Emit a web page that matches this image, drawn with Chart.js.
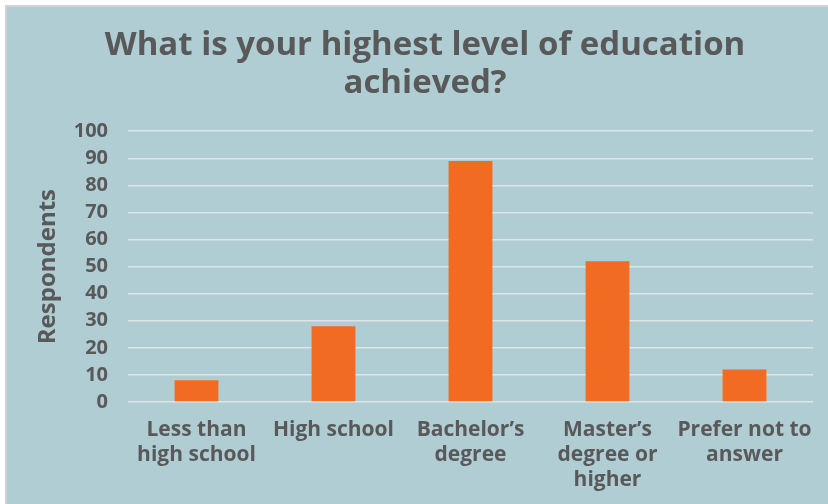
<!DOCTYPE html>
<html>
<head>
<meta charset="utf-8">
<script src="https://cdn.jsdelivr.net/npm/chart.js@4"></script>
<style>
  html, body { margin: 0; padding: 0; background: #ffffff; }
  #panel {
    position: absolute;
    left: 5px;
    top: 5px;
    width: 821px;
    height: 497px;
    overflow: hidden;
    border-top: 2px solid #d2d2d2;
    border-left: 2px solid #d2d2d2;
    background: #afcdd3;
  }
  #wrap { position: relative; width: 836px; height: 497px; }
</style>
</head>
<body>
<div id="panel">
  <div id="wrap"><canvas id="educacionChart"></canvas></div>
</div>
<script>
// Datos de la encuesta
const categorias = [
    ['Less than', 'high school'],
    'High school',
    ['Bachelor\u2019s', 'degree'],
    ['Master\u2019s', 'degree or', 'higher'],
    ['Prefer not to', 'answer']
];
const respondentes = [8, 28, 89, 52, 12];
const tituloLineas = ['What is your highest level of education', 'achieved?'];

const colorTexto = '#595959';
const fuente = "'Open Sans', 'DejaVu Sans', sans-serif";

const ctx = document.getElementById('educacionChart').getContext('2d');
new Chart(ctx, {
    type: 'bar',
    data: {
        labels: categorias,
        datasets: [{
            label: 'Respondents',
            data: respondentes,
            backgroundColor: '#f26b22',
            borderWidth: 0,
            categoryPercentage: 1,
            barPercentage: 0.32
        }]
    },
    options: {
        responsive: true,
        maintainAspectRatio: false,
        animation: false,
        layout: { padding: 0 },
        plugins: {
            legend: { display: false },
            tooltip: { enabled: false },
            title: {
                display: true,
                text: tituloLineas,
                color: colorTexto,
                font: { family: fuente, size: 33, weight: 'bold', lineHeight: 1.14 },
                padding: { top: 20, bottom: 29 }
            }
        },
        scales: {
            x: {
                grid: { display: false, drawTicks: false },
                border: { display: false },
                ticks: {
                    color: colorTexto,
                    padding: 15,
                    maxRotation: 0,
                    autoSkip: false,
                    font: { family: fuente, size: 21, weight: 'bold', lineHeight: 1.2 }
                },
                afterFit: function(axis) { axis.height = 102; }
            },
            y: {
                min: 0,
                max: 100,
                grid: { color: 'rgba(226, 229, 229, 0.95)', lineWidth: 1.5, drawTicks: false },
                border: { display: false },
                ticks: {
                    stepSize: 10,
                    color: colorTexto,
                    padding: 20,
                    font: { family: fuente, size: 20, weight: 'bold' }
                },
                title: {
                    display: true,
                    text: 'Respondents',
                    color: colorTexto,
                    padding: { top: 27, bottom: 0 },
                    font: { family: fuente, size: 24, weight: 'bold', lineHeight: 1.2 }
                },
                afterFit: function(axis) { axis.width = 121; }
            },
            // margen derecho vacío (el lienzo sobresale del panel para centrar el título)
            margenDerecho: {
                type: 'linear',
                position: 'right',
                grid: { display: false, drawTicks: false },
                border: { display: false },
                ticks: { display: false },
                afterFit: function(axis) { axis.width = 30; }
            }
        }
    }
});
</script>
</body>
</html>
